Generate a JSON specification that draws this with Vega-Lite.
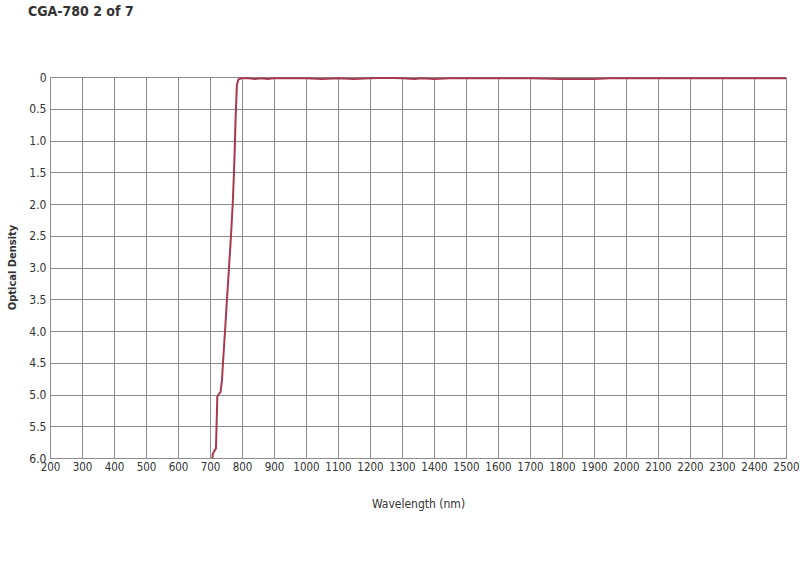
{
  "$schema": "https://vega.github.io/schema/vega-lite/v6.json",
  "width": 736,
  "height": 381,
  "autosize": "none",
  "padding": {"left": 50, "top": 77, "right": 14, "bottom": 107},
  "background": "white",
  "title": {
    "text": "CGA-780 2 of 7",
    "anchor": "start",
    "frame": "group",
    "dx": -22,
    "offset": 52,
    "font": "DejaVu Sans Condensed",
    "fontSize": 14,
    "fontWeight": "bold",
    "color": "#333333"
  },
  "config": {
    "view": {"stroke": "#999999"},
    "font": "DejaVu Sans Condensed"
  },
  "data": {
    "values": [
      {"wl": 708, "od": 6.0},
      {"wl": 708.4, "od": 5.94},
      {"wl": 714.6, "od": 5.88},
      {"wl": 718.7, "od": 5.85},
      {"wl": 722.9, "od": 5.03},
      {"wl": 727, "od": 5.0},
      {"wl": 733, "od": 4.96},
      {"wl": 737.5, "od": 4.77},
      {"wl": 740.6, "od": 4.5},
      {"wl": 747, "od": 4.0},
      {"wl": 753, "od": 3.5},
      {"wl": 759.4, "od": 3.0},
      {"wl": 765.6, "od": 2.5},
      {"wl": 771, "od": 2.0},
      {"wl": 775, "od": 1.5},
      {"wl": 777.5, "od": 1.1},
      {"wl": 780, "od": 0.65},
      {"wl": 784, "od": 0.13},
      {"wl": 788.5, "od": 0.04},
      {"wl": 797, "od": 0.02},
      {"wl": 820, "od": 0.02},
      {"wl": 840, "od": 0.03},
      {"wl": 860, "od": 0.02},
      {"wl": 880, "od": 0.03},
      {"wl": 900, "od": 0.02},
      {"wl": 950, "od": 0.02},
      {"wl": 1000, "od": 0.02},
      {"wl": 1050, "od": 0.03},
      {"wl": 1100, "od": 0.02},
      {"wl": 1150, "od": 0.03},
      {"wl": 1200, "od": 0.02},
      {"wl": 1250, "od": 0.01},
      {"wl": 1300, "od": 0.02},
      {"wl": 1340, "od": 0.03},
      {"wl": 1360, "od": 0.02},
      {"wl": 1400, "od": 0.03},
      {"wl": 1450, "od": 0.02},
      {"wl": 1500, "od": 0.02},
      {"wl": 1600, "od": 0.02},
      {"wl": 1700, "od": 0.02},
      {"wl": 1800, "od": 0.03},
      {"wl": 1900, "od": 0.03},
      {"wl": 1950, "od": 0.02},
      {"wl": 2000, "od": 0.02},
      {"wl": 2100, "od": 0.02},
      {"wl": 2200, "od": 0.02},
      {"wl": 2300, "od": 0.02},
      {"wl": 2400, "od": 0.02},
      {"wl": 2500, "od": 0.02}
    ]
  },
  "mark": {"type": "line", "color": "#a63a50", "strokeWidth": 2, "clip": true},
  "encoding": {
    "x": {
      "field": "wl",
      "type": "quantitative",
      "scale": {"domain": [200, 2500], "nice": false, "zero": false},
      "axis": {
        "title": "Wavelength (nm)",
        "values": [200, 300, 400, 500, 600, 700, 800, 900, 1000, 1100, 1200, 1300, 1400, 1500, 1600, 1700, 1800, 1900, 2000, 2100, 2200, 2300, 2400, 2500],
        "format": "d",
        "grid": true,
        "gridColor": "#8c8c8c",
        "gridOpacity": 1,
        "domainColor": "#8c8c8c",
        "ticks": false,
        "labelPadding": 3,
        "labelFontSize": 11.5,
        "labelColor": "#333333",
        "labelFlush": false,
        "labelOverlap": false,
        "titleFontSize": 12,
        "titleFontWeight": "normal",
        "titleColor": "#333333",
        "titleY": 45,
        "titleBaseline": "middle"
      }
    },
    "y": {
      "field": "od",
      "type": "quantitative",
      "scale": {"domain": [0, 6], "reverse": true, "nice": false},
      "axis": {
        "title": "Optical Density",
        "values": [0, 0.5, 1, 1.5, 2, 2.5, 3, 3.5, 4, 4.5, 5, 5.5, 6],
        "labelExpr": "datum.value == 0 ? '0' : format(datum.value, '.1f')",
        "grid": true,
        "gridColor": "#8c8c8c",
        "gridOpacity": 1,
        "domainColor": "#8c8c8c",
        "ticks": false,
        "labelPadding": 4,
        "labelFontSize": 12,
        "labelColor": "#333333",
        "labelOverlap": false,
        "labelFlush": false,
        "titleFontSize": 11,
        "titleFontWeight": "bold",
        "titleColor": "#333333",
        "titleAngle": -90,
        "titleX": -38,
        "titleY": 190,
        "titleAlign": "center",
        "titleBaseline": "middle"
      }
    }
  }
}
